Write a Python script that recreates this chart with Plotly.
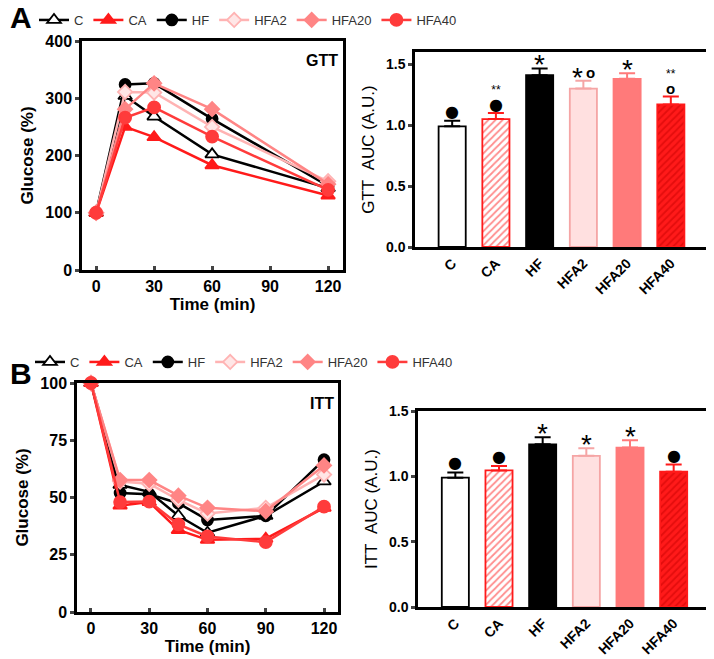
import plotly.graph_objects as go

# groupes
groups = ["C", "CA", "HF", "HFA2", "HFA20", "HFA40"]

# GTT (glucose %, temps en min)
gtt_time = [0, 15, 30, 60, 120]
gtt_c = [100, 304, 268, 202, 143]
gtt_ca = [100, 250, 232, 183, 130]
gtt_hf = [100, 324, 326, 264, 147]
gtt_hfa2 = [100, 311, 310, 250, 155]
gtt_hfa20 = [100, 281, 326, 281, 150]
gtt_hfa40 = [100, 266, 284, 233, 140]

# ITT
itt_time = [0, 15, 30, 45, 60, 90, 120]
itt_c = [100, 55.5, 52.5, 42, 34.6, 42, 57]
itt_ca = [100, 46.5, 48, 35.8, 31.5, 32, 45.5]
itt_hf = [100, 52, 51.4, 47.5, 40.2, 42, 66.5]
itt_hfa2 = [100, 57, 56, 49, 43, 45.5, 60]
itt_hfa20 = [100, 57.6, 57.6, 50.8, 45.5, 44, 64]
itt_hfa40 = [100, 48, 48.2, 38.3, 33, 30.5, 46]

# AUC
gtt_auc = [0.99, 1.05, 1.41, 1.30, 1.38, 1.17]
gtt_err = [0.045, 0.05, 0.055, 0.065, 0.045, 0.065]
gtt_mark = ["●", "●", "", "o", "", "o"]
gtt_star = ["", "**", "*", "*", "*", "**"]

itt_auc = [0.99, 1.045, 1.245, 1.157, 1.22, 1.035]
itt_err = [0.04, 0.035, 0.055, 0.058, 0.057, 0.055]
itt_mark = ["●", "●", "", "", "", "●"]
itt_star = ["", "", "*", "*", "*", ""]

FONT = "Liberation Sans, Arial, sans-serif"
# la page place la figure à 8 px du coin : on compense
OFF = 8
W, H = 714 - OFF, 659 - OFF

# styles des séries
line_col = ["#000000", "#FF1A1A", "#000000", "#FFB3B3", "#FF8585", "#FF3B3B"]
mk_sym = ["triangle-up", "triangle-up", "circle", "diamond", "diamond", "circle"]
mk_fill = ["#FFFFFF", "#FF1A1A", "#000000", "#FFE6E6", "#FF8585", "#FF3B3B"]
mk_line = ["#000000", "#FF1A1A", "#000000", "#FFB3B3", "#FF8585", "#FF3B3B"]
mk_size = [12, 12, 11, 11, 11, 12]

bar_fill = ["#FFFFFF", "#FFFFFF", "#000000", "#FFE0E0", "#FF7A7A", "#FF1A1A"]
bar_line = ["#000000", "#FF1A1A", "#000000", "#F5A5A5", "#FF7A7A", "#FF1A1A"]
bar_hatch = ["", "/", "", "", "", "/"]
hatch_col = ["#000000", "#FF1A1A", "#000000", "#000000", "#000000", "#C80000"]


def px_x(a, b=None):
    if b is None:
        return max(a - OFF, 0) / W
    return [(a - OFF) / W, (b - OFF) / W]


def px_y(top, bottom=None):
    if bottom is None:
        return 1 - (top - OFF) / H
    return [1 - (bottom - OFF) / H, 1 - (top - OFF) / H]


fig = go.Figure()

gtt_series = [gtt_c, gtt_ca, gtt_hf, gtt_hfa2, gtt_hfa20, gtt_hfa40]
itt_series = [itt_c, itt_ca, itt_hf, itt_hfa2, itt_hfa20, itt_hfa40]

for i, g in enumerate(groups):
    style = dict(
        mode="lines+markers",
        line=dict(color=line_col[i], width=2.5),
        marker=dict(symbol=mk_sym[i], size=mk_size[i], color=mk_fill[i],
                    line=dict(color=mk_line[i], width=1.8)),
        cliponaxis=False,
        name=g,
    )
    fig.add_trace(go.Scatter(x=gtt_time, y=gtt_series[i], xaxis="x", yaxis="y",
                             legend="legend", **style))
    fig.add_trace(go.Scatter(x=itt_time, y=itt_series[i], xaxis="x3", yaxis="y3",
                             legend="legend2", **style))

for i, g in enumerate(groups):
    for vals, errs, xa, ya in [(gtt_auc, gtt_err, "x2", "y2"), (itt_auc, itt_err, "x4", "y4")]:
        fig.add_trace(go.Bar(
            x=[g], y=[vals[i]], xaxis=xa, yaxis=ya, width=0.62, showlegend=False,
            marker=dict(color=bar_fill[i], line=dict(color=bar_line[i], width=1.8),
                        pattern=dict(shape=bar_hatch[i], fgcolor=hatch_col[i],
                                     size=5, solidity=0.35)),
            error_y=dict(type="data", symmetric=False, array=[errs[i]], arrayminus=[0],
                         color=bar_line[i], thickness=2, width=8),
        ))

DOT = "<span style='font-family:DejaVu Sans;font-size:16px'>●</span>"
RING = "<b><span style='font-size:15px'>o</span></b>"


def sym(m):
    return DOT if m == "●" else RING


# signes de significativité au-dessus des barres
ann = []
for vals, errs, marks, stars, xa, ya in [(gtt_auc, gtt_err, gtt_mark, gtt_star, "x2", "y2"),
                                          (itt_auc, itt_err, itt_mark, itt_star, "x4", "y4")]:
    for i, g in enumerate(groups):
        top = vals[i] + errs[i]
        m, s = marks[i], stars[i]
        base = dict(x=g, y=top, xref=xa, yref=ya, showarrow=False, yanchor="bottom")
        if s == "*":
            ann.append(dict(base, text="*", xshift=-6 if m else 0, yshift=-14,
                            font=dict(family=FONT, size=28, color="#000000")))
            if m:
                ann.append(dict(base, text=sym(m), xshift=7, yshift=-2,
                                font=dict(family=FONT, size=12, color="#000000")))
        elif m and s:
            ann.append(dict(base, text=s + "<br>" + sym(m), yshift=-3,
                            font=dict(family=FONT, size=12, color="#000000")))
        elif m:
            ann.append(dict(base, text=sym(m), yshift=-2,
                            font=dict(family=FONT, size=12, color="#000000")))

ann += [
    dict(x=px_x(2), y=px_y(17), xref="paper", yref="paper", text="<b>A</b>",
         showarrow=False, xanchor="left", yanchor="middle",
         font=dict(family=FONT, size=30, color="#000000")),
    dict(x=px_x(2), y=px_y(373), xref="paper", yref="paper", text="<b>B</b>",
         showarrow=False, xanchor="left", yanchor="middle",
         font=dict(family=FONT, size=30, color="#000000")),
    dict(x=px_x(340), y=px_y(60), xref="paper", yref="paper", text="<b>GTT</b>",
         showarrow=False, xanchor="right", yanchor="middle",
         font=dict(family=FONT, size=16, color="#000000")),
    dict(x=px_x(336), y=px_y(403), xref="paper", yref="paper", text="<b>ITT</b>",
         showarrow=False, xanchor="right", yanchor="middle",
         font=dict(family=FONT, size=16, color="#000000")),
]

tickf = dict(family=FONT, size=16, color="#000000", weight="bold")
tickf_bar = dict(family=FONT, size=14, color="#000000", weight="bold")
tickf_barx = dict(family=FONT, size=14, color="#000000", weight="bold")
titf = dict(family=FONT, size=17, color="#000000", weight="bold")
titf_bar = dict(family=FONT, size=17, color="#000000")
box = dict(showline=True, linewidth=2.5, linecolor="#000000", mirror=True,
           showgrid=False, zeroline=False)
leg = dict(orientation="h", xanchor="left", yanchor="middle",
           font=dict(family=FONT, size=13, color="#333333"), bgcolor="rgba(0,0,0,0)",
           itemwidth=30, tracegroupgap=0)

fig.update_layout(
    width=W, height=H,
    margin=dict(l=0, r=0, t=0, b=0, autoexpand=False),
    paper_bgcolor="white", plot_bgcolor="white",
    barmode="overlay",
    font=dict(family=FONT),
    xaxis=dict(domain=px_x(82, 343), range=[-7.3, 127.7], tickvals=[0, 30, 60, 90, 120],
               ticks="inside", ticklen=4, tickwidth=2.5, anchor="y", tickfont=tickf,
               title=dict(text="Time (min)", font=titf, standoff=2), **box),
    yaxis=dict(domain=px_y(41, 270), range=[0, 400], dtick=100, ticks="outside",
               ticklen=4, tickwidth=2.5, anchor="x", tickfont=tickf,
               title=dict(text="Glucose (%)", font=titf, standoff=8), **box),
    xaxis2=dict(domain=px_x(415, 708), range=[-0.85, 5.85], type="category",
                categoryorder="array", categoryarray=groups, tickangle=-45, ticks="",
                anchor="y2", tickfont=tickf_barx, **box),
    yaxis2=dict(domain=px_y(52, 247), range=[0, 1.6], tickvals=[0, 0.5, 1.0, 1.5],
                ticktext=["0.0", "0.5", "1.0", "1.5"], ticks="outside", ticklen=4,
                tickwidth=2.5, anchor="x2", tickfont=tickf_bar,
                title=dict(text="GTT\u00a0\u00a0AUC (A.U.)", font=titf_bar, standoff=8),
                **box),
    xaxis3=dict(domain=px_x(77, 338), range=[-7.2, 127.2], tickvals=[0, 30, 60, 90, 120],
                ticks="inside", ticklen=4, tickwidth=2.5, anchor="y3", tickfont=tickf,
                title=dict(text="Time (min)", font=titf, standoff=2), **box),
    yaxis3=dict(domain=px_y(383, 612), range=[0, 100], dtick=25, ticks="outside",
                ticklen=4, tickwidth=2.5, anchor="x3", tickfont=tickf,
                title=dict(text="Glucose (%)", font=titf, standoff=8), **box),
    xaxis4=dict(domain=px_x(418, 711), range=[-0.855, 5.855], type="category",
                categoryorder="array", categoryarray=groups, tickangle=-45, ticks="",
                anchor="y4", tickfont=tickf_barx, **box),
    yaxis4=dict(domain=px_y(411, 607), range=[0, 1.5], tickvals=[0, 0.5, 1.0, 1.5],
                ticktext=["0.0", "0.5", "1.0", "1.5"], ticks="outside", ticklen=4,
                tickwidth=2.5, anchor="x4", tickfont=tickf_bar,
                title=dict(text="ITT\u00a0\u00a0AUC (A.U.)", font=titf_bar, standoff=8),
                **box),
    legend=dict(leg, x=px_x(34), y=px_y(20)),
    legend2=dict(leg, x=px_x(30), y=px_y(362)),
    annotations=ann,
)

fig.write_html("out.html")
